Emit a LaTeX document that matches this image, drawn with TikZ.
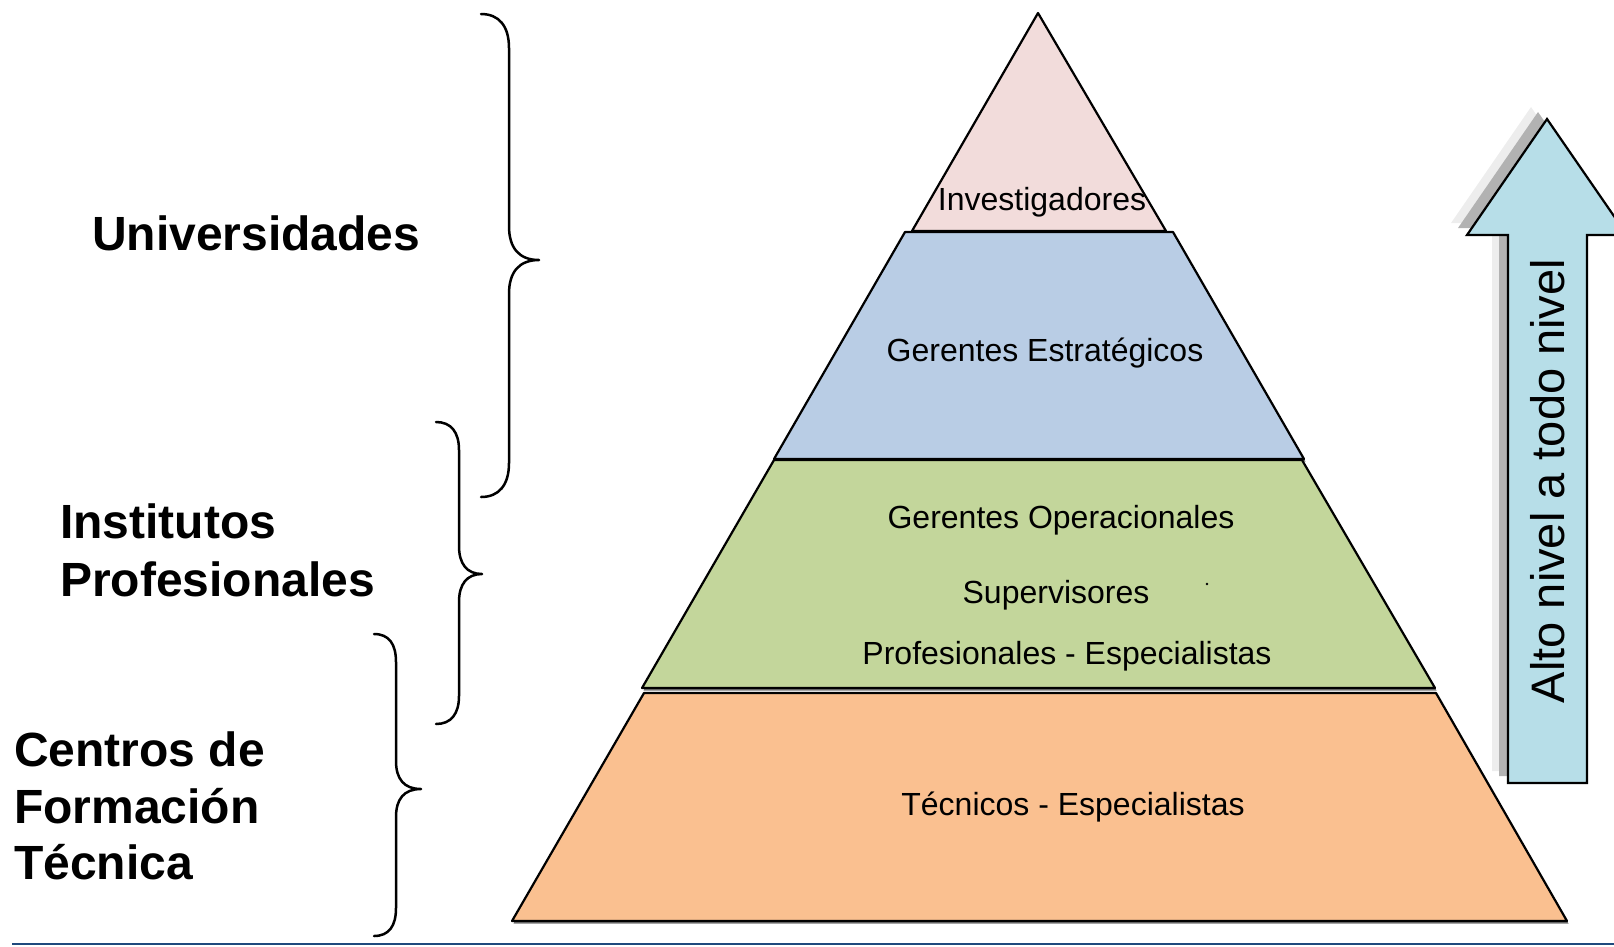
\documentclass[tikz,border=0pt]{standalone}
\usepackage{fontspec}
\setmainfont{Liberation Sans}
\definecolor{pinkc}{HTML}{F2DCDB}
\definecolor{bluec}{HTML}{B9CDE5}
\definecolor{greenc}{HTML}{C3D69B}
\definecolor{orangec}{HTML}{FAC090}
\definecolor{arrowc}{HTML}{B7DEE8}
\definecolor{navy}{HTML}{1F497D}
\begin{document}
\begin{tikzpicture}[x=1pt,y=-1pt,
  layer/.style={draw=black, line width=2.2pt, line join=round},
  shadowc/.style={fill=black!55, draw=none},
  lbl/.style={font=\fontsize{32}{38}\selectfont, inner sep=0pt, anchor=base},
  big/.style={font=\fontsize{48}{57}\selectfont\bfseries, inner sep=0pt, anchor=base west},
  brace/.style={draw=black, line width=2.5pt, line cap=round, line join=round}]
\useasboundingbox (0,0) rectangle (1614,946);

% shadows of the layers
\begin{scope}[shift={(1.5,2.5)}]
  \fill[shadowc] (1038,13) -- (1166,231) -- (912,231) -- cycle;
  \fill[shadowc] (905,232) -- (1173,232) -- (1304,459) -- (774,459) -- cycle;
  \fill[shadowc] (774,460) -- (1302,460) -- (1435,688) -- (642,688) -- cycle;
  \fill[shadowc] (644,693) -- (1436,693) -- (1567,921) -- (512,921) -- cycle;
\end{scope}

% pyramid layers
\filldraw[layer, fill=pinkc] (1038,13) -- (1166,231) -- (912,231) -- cycle;
\filldraw[layer, fill=bluec] (905,232) -- (1173,232) -- (1304,459) -- (774,459) -- cycle;
\filldraw[layer, fill=greenc] (774,460) -- (1302,460) -- (1435,688) -- (642,688) -- cycle;
\filldraw[layer, fill=orangec] (644,693) -- (1436,693) -- (1567,921) -- (512,921) -- cycle;

% layer texts
\node[lbl] (inv) at (1042,210) {Investigadores};
\node[lbl] (ge) at (1045,361) {Gerentes Estratégicos};
\node[lbl] (go) at (1061,528) {Gerentes Operacionales};
\node[lbl] (sup) at (1056,603) {Supervisores};
\node[lbl] (pe) at (1067,664) {Profesionales - Especialistas};
\node[lbl] (te) at (1073,815) {Técnicos - Especialistas};
\fill (1207,584) circle (1.4);

% left labels
\node[big] (u1) at (92,250) {Universidades};
\node[big] (ip1) at (60,538) {Institutos};
\node[big] (ip2) at (60,596) {Profesionales};
\node[big] (cf1) at (14,766) {Centros de};
\node[big] (cf2) at (14,823) {Formación};
\node[big] (cf3) at (14,879) {Técnica};

% braces
\draw[brace] (481,14) .. controls (499,14) and (509,26) .. (509,48) -- (509,226)
  .. controls (509,248) and (519,260) .. (539,260)
  .. controls (519,260) and (509,272) .. (509,294) -- (509,463)
  .. controls (509,485) and (499,497) .. (481,497);
\draw[brace] (436,422) .. controls (451,422) and (459,432) .. (459,450) -- (459,546)
  .. controls (459,564) and (467,574) .. (482,574)
  .. controls (467,574) and (459,584) .. (459,602) -- (459,696)
  .. controls (459,714) and (451,724) .. (436,724);
\draw[brace] (374,634) .. controls (389,634) and (396,644) .. (396,662) -- (396,761)
  .. controls (396,779) and (404,789) .. (421,789)
  .. controls (404,789) and (396,799) .. (396,817) -- (396,908)
  .. controls (396,926) and (389,936) .. (374,936);

% arrow with shadow
\fill[black!7] [shift={(-16,-12)}] (1547,119) -- (1627,235) -- (1587,235) -- (1587,783) -- (1508,783) -- (1508,235) -- (1467,235) -- cycle;
\fill[black!30] [shift={(-9,-7)}] (1547,119) -- (1627,235) -- (1587,235) -- (1587,783) -- (1508,783) -- (1508,235) -- (1467,235) -- cycle;
\filldraw[fill=arrowc, draw=black, line width=2.2pt, line join=miter] (1547,119) -- (1627,235) -- (1587,235) -- (1587,783) -- (1508,783) -- (1508,235) -- (1467,235) -- cycle;
\node[font=\fontsize{47}{57}\selectfont, inner sep=0pt, rotate=90, anchor=base] (alto) at (1564,481) {Alto nivel a todo nivel};

% bottom rule
\draw[navy, line width=2pt] (12,944) -- (1614,944);
\end{tikzpicture}
\end{document}
